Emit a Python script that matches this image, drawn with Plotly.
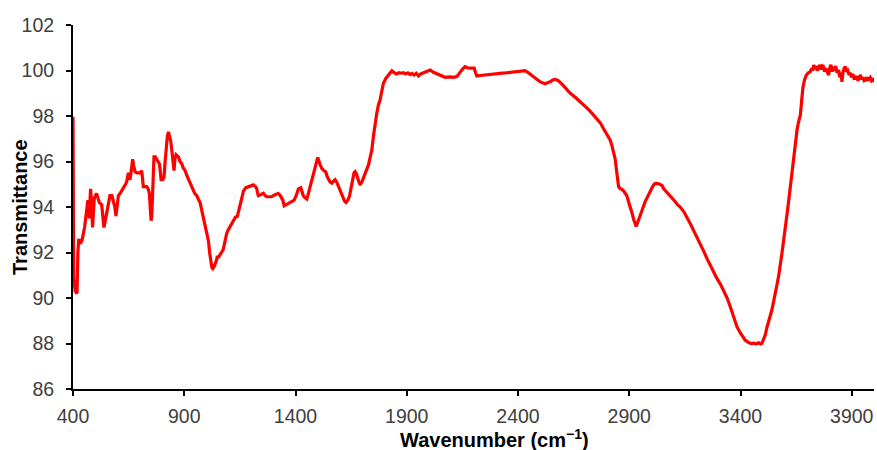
import plotly.graph_objects as go

# FTIR spectrum: wavenumber (cm-1) vs transmittance (%)
wavenumber = [
    400, 401, 403, 410, 418, 422, 426, 432, 440, 452, 461, 467, 470, 473, 476, 479, 483, 488, 492, 496,
    506, 518, 529, 535, 539, 545, 551, 558, 566, 575, 581, 588, 593, 598, 604, 612, 619, 629, 636, 641,
    645, 649, 653, 656, 662, 668, 673, 679, 687, 694, 702, 709, 713, 716, 724, 731, 738, 743, 747, 751,
    754, 757, 760, 764, 770, 776, 782, 788, 792, 796, 803, 809, 814, 818, 824, 829, 834, 839, 844, 848,
    851, 854, 858, 863, 869, 874, 881, 889, 896, 904, 911, 919, 928, 938, 947, 956, 963, 971, 980, 989,
    998, 1004, 1009, 1014, 1019, 1024, 1028, 1035, 1043, 1048, 1054, 1060, 1068, 1074, 1079, 1085, 1091, 1098, 1106, 1113,
    1121, 1130, 1139, 1146, 1154, 1160, 1166, 1177, 1189, 1200, 1211, 1220, 1226, 1230, 1233, 1245, 1256, 1264, 1271, 1282,
    1292, 1300, 1310, 1322, 1332, 1343, 1349, 1358, 1366, 1376, 1385, 1394, 1403, 1413, 1424, 1435, 1443, 1451, 1458, 1466,
    1473, 1480, 1490, 1500, 1509, 1518, 1527, 1536, 1542, 1548, 1555, 1563, 1570, 1578, 1585, 1593, 1604, 1615, 1621, 1627,
    1635, 1642, 1650, 1657, 1663, 1668, 1674, 1680, 1690, 1698, 1705, 1713, 1720, 1728, 1736, 1743, 1750, 1758, 1765, 1773,
    1780, 1788, 1795, 1806, 1818, 1826, 1833, 1844, 1855, 1865, 1875, 1885, 1895, 1905, 1915, 1923, 1933, 1943, 1953, 1963,
    1975, 1990, 2005, 2020, 2035, 2050, 2072, 2095, 2110, 2125, 2133, 2140, 2150, 2162, 2172, 2185, 2195, 2203, 2209, 2215,
    2230, 2245, 2268, 2290, 2320, 2350, 2380, 2410, 2432, 2447, 2462, 2480, 2500, 2510, 2522, 2535, 2545, 2556, 2567, 2575,
    2582, 2600, 2615, 2635, 2660, 2680, 2694, 2710, 2725, 2739, 2754, 2770, 2784, 2800, 2814, 2822, 2830, 2837, 2843, 2848,
    2852, 2860, 2867, 2875, 2882, 2889, 2898, 2905, 2912, 2920, 2926, 2931, 2937, 2944, 2950, 2957, 2965, 2972, 2980, 2987,
    2994, 3005, 3013, 3021, 3033, 3047, 3055, 3065, 3077, 3090, 3105, 3117, 3129, 3145, 3159, 3175, 3190, 3204, 3220, 3235,
    3249, 3265, 3280, 3294, 3310, 3324, 3340, 3354, 3368, 3384, 3400, 3412, 3421, 3435, 3447, 3459, 3470, 3482, 3490, 3496,
    3503, 3511, 3520, 3530, 3541, 3556, 3571, 3586, 3601, 3612, 3624, 3632, 3639, 3647, 3654, 3660, 3669, 3675, 3681, 3688,
    3696, 3705, 3714, 3720, 3725, 3729, 3735, 3740, 3745, 3751, 3757, 3762, 3768, 3773, 3778, 3784, 3790, 3796, 3801, 3806,
    3812, 3818, 3823, 3828, 3834, 3841, 3846, 3851, 3856, 3860, 3866, 3871, 3877, 3882, 3888, 3893, 3899, 3905, 3910, 3916,
    3922, 3928, 3934, 3939, 3945, 3950, 3956, 3961, 3967, 3972, 3978, 3983, 3989, 3995, 4000,
]

transmittance = [
    97.97, 91.2, 90.9, 90.3, 90.2, 92.0, 92.6, 92.4, 92.5, 93.1, 93.8, 94.3, 94.1, 93.5, 94.2, 94.8, 94.2, 93.1, 93.8, 94.4,
    94.6, 94.2, 94.1, 93.6, 93.1, 93.4, 93.7, 94.2, 94.5, 94.5, 94.3, 94.0, 93.6, 94.2, 94.5, 94.6, 94.7, 94.9, 95.0, 95.1,
    95.3, 95.5, 95.3, 95.2, 95.6, 96.1, 95.8, 95.55, 95.5, 95.5, 95.5, 95.6, 95.2, 94.9, 94.9, 94.9, 94.8, 94.6, 94.0, 93.4,
    93.6, 94.3, 95.3, 96.2, 96.2, 96.1, 96.0, 95.9, 95.6, 95.2, 95.2, 95.3, 96.0, 96.6, 97.1, 97.3, 97.1, 96.9, 96.5, 96.1,
    95.6, 95.6, 96.1, 96.3, 96.25, 96.2, 96.0, 95.9, 95.7, 95.6, 95.4, 95.2, 95.0, 94.8, 94.6, 94.5, 94.35, 94.2, 93.8, 93.4,
    93.0, 92.8, 92.5, 92.0, 91.5, 91.35, 91.3, 91.4, 91.6, 91.8, 91.8, 91.9, 92.0, 92.1, 92.3, 92.6, 92.85, 93.0, 93.15, 93.3,
    93.45, 93.55, 93.6, 93.9, 94.3, 94.55, 94.7, 94.85, 94.9, 94.95, 94.97, 94.9, 94.8, 94.6, 94.5, 94.55, 94.6, 94.5, 94.45, 94.45,
    94.45, 94.5, 94.55, 94.6, 94.5, 94.3, 94.05, 94.1, 94.15, 94.2, 94.25, 94.3, 94.5, 94.8, 94.85, 94.5, 94.4, 94.35, 94.6, 94.9,
    95.1, 95.3, 95.8, 96.18, 95.9, 95.7, 95.6, 95.55, 95.35, 95.2, 95.1, 95.05, 95.1, 95.2, 95.1, 94.9, 94.7, 94.4, 94.25, 94.2,
    94.3, 94.45, 94.9, 95.33, 95.5, 95.55, 95.45, 95.25, 94.97, 95.1, 95.26, 95.48, 95.6, 95.85, 96.2, 96.5, 97.1, 97.7, 98.1, 98.5,
    98.7, 99.1, 99.44, 99.65, 99.8, 99.9, 99.99, 99.9, 99.85, 99.9, 99.88, 99.9, 99.85, 99.9, 99.82, 99.87, 99.8, 99.88, 99.76, 99.85,
    99.9, 99.95, 100.02, 99.92, 99.85, 99.78, 99.7, 99.72, 99.7, 99.73, 99.85, 99.95, 100.05, 100.17, 100.12, 100.1, 100.12, 100.1, 99.9, 99.76,
    99.78, 99.8, 99.82, 99.85, 99.87, 99.9, 99.93, 99.99, 99.99, 99.9, 99.8, 99.65, 99.5, 99.45, 99.42, 99.47, 99.5, 99.58, 99.61, 99.58,
    99.55, 99.38, 99.2, 99.0, 98.8, 98.63, 98.48, 98.35, 98.2, 98.04, 97.9, 97.7, 97.45, 97.2, 96.95, 96.7, 96.4, 96.1, 95.6, 95.1,
    94.9, 94.8, 94.78, 94.7, 94.6, 94.5, 94.2, 94.0, 93.75, 93.45, 93.25, 93.15, 93.3, 93.5, 93.65, 93.87, 94.1, 94.25, 94.4, 94.55,
    94.7, 94.9, 95.02, 95.04, 95.02, 94.95, 94.8, 94.7, 94.53, 94.4, 94.25, 94.1, 94.0, 93.8, 93.57, 93.25, 92.95, 92.69, 92.35, 92.05,
    91.74, 91.4, 91.1, 90.86, 90.6, 90.35, 90.0, 89.62, 89.2, 88.74, 88.45, 88.25, 88.15, 88.05, 88.0, 88.02, 87.98, 88.03, 87.98, 88.0,
    88.15, 88.37, 88.75, 89.1, 89.47, 90.2, 90.94, 91.95, 92.99, 93.9, 94.89, 95.6, 96.21, 96.8, 97.38, 97.7, 98.04, 98.7, 99.29, 99.6,
    99.8, 99.9, 99.95, 100.1, 100.0, 100.24, 100.05, 100.2, 100.0, 100.1, 100.25, 100.05, 100.2, 100.17, 99.95, 100.1, 99.9, 99.8, 100.1, 100.25,
    99.95, 100.17, 100.0, 100.2, 99.9, 100.02, 99.7, 99.9, 99.5, 99.9, 100.1, 100.17, 99.95, 100.0, 99.8, 99.9, 99.7, 99.85, 99.65, 99.66,
    99.75, 99.55, 99.7, 99.8, 99.6, 99.7, 99.55, 99.58, 99.7, 99.55, 99.65, 99.7, 99.55, 99.6, 99.5,
]

x_ticks = [400, 900, 1400, 1900, 2400, 2900, 3400, 3900]
y_ticks = [86, 88, 90, 92, 94, 96, 98, 100, 102]

fig = go.Figure()
fig.add_trace(go.Scatter(
    x=wavenumber,
    y=transmittance,
    mode="lines",
    line=dict(color="#ff0000", width=3.2),
    showlegend=False,
))

tick_font = dict(family="Liberation Sans, Arial, sans-serif", size=19.5, color="#404040")
title_font = dict(family="Liberation Sans, Arial, sans-serif", size=20, color="#000000")

# plot area in pixels: left 73, right 874, top 25, bottom 389
plot_w, plot_h = 801, 364

fig.update_layout(
    width=877,
    height=450,
    margin=dict(l=73, r=3, t=25, b=61),
    plot_bgcolor="white",
    paper_bgcolor="white",
    xaxis=dict(
        range=[400, 4000],
        tickvals=x_ticks,
        ticktext=[str(v) for v in x_ticks],
        ticks="outside",
        ticklen=5,
        tickwidth=2,
        tickcolor="black",
        ticklabelstandoff=4,
        showline=True,
        linecolor="black",
        linewidth=2,
        showgrid=False,
        zeroline=False,
        tickfont=tick_font,
    ),
    yaxis=dict(
        range=[86, 102],
        tickvals=y_ticks,
        ticktext=[str(v) for v in y_ticks],
        ticks="outside",
        ticklen=5,
        tickwidth=2,
        tickcolor="black",
        ticklabelstandoff=8,
        showline=True,
        linecolor="black",
        linewidth=2,
        showgrid=False,
        zeroline=False,
        tickfont=tick_font,
    ),
    annotations=[
        dict(
            text="<b>Wavenumber (cm<sup>−1</sup>)</b>",
            xref="paper", yref="paper",
            x=(495 - 73) / plot_w, y=-(438 - 389) / plot_h,
            xanchor="center", yanchor="middle",
            showarrow=False,
            font=title_font,
        ),
        dict(
            text="<b>Transmittance</b>",
            xref="paper", yref="paper",
            x=(20 - 73) / plot_w, y=0.5,
            xanchor="center", yanchor="middle",
            textangle=-90,
            showarrow=False,
            font=title_font,
        ),
    ],
)

fig.write_html("out.html")
